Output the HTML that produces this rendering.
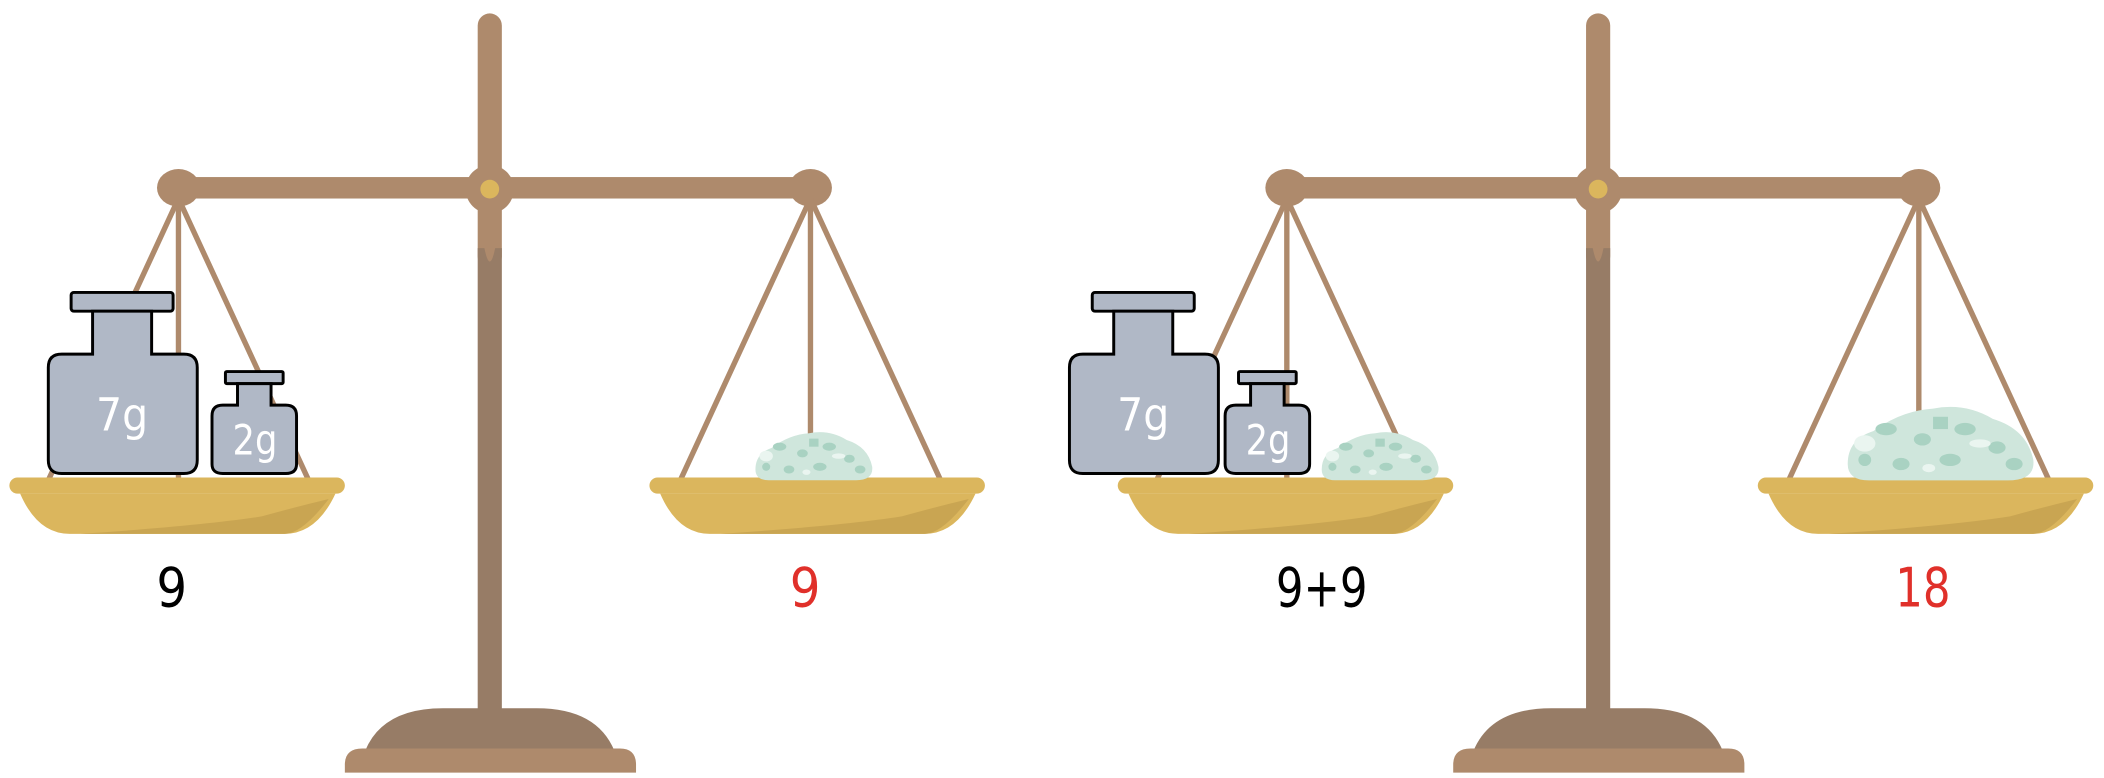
<!DOCTYPE html>
<html><head><meta charset="utf-8"><style>
html,body{margin:0;padding:0;background:#fff;}
svg{display:block;}
text{font-family:"DejaVu Sans","Liberation Sans",sans-serif;}
</style></head><body>
<svg width="2104" height="778" viewBox="0 0 1568 580" preserveAspectRatio="none">
<defs>
<g id="scale">
  <rect x="356" y="10" width="18" height="190" rx="9" fill="#ae8a6c"/>
  <rect x="356" y="185" width="18" height="348" fill="#977c66"/>
  <path d="M356 150 L374 150 L369 185 Q365 205 361 185 Z" fill="#ae8a6c"/>
  <rect x="133" y="132" width="471" height="16" fill="#ae8a6c"/>
  <ellipse cx="133" cy="140" rx="16" ry="14" fill="#ae8a6c"/>
  <ellipse cx="604" cy="140" rx="16" ry="14" fill="#ae8a6c"/>
  <circle cx="365" cy="141" r="18" fill="#ae8a6c"/>
  <circle cx="365" cy="141" r="7" fill="#dbb65d"/>
  <g stroke="#ae8a6c" stroke-width="4" fill="none">
    <line x1="133" y1="148" x2="36" y2="358"/><line x1="133" y1="148" x2="230" y2="358"/><line x1="133" y1="148" x2="133" y2="358"/>
    <line x1="604" y1="148" x2="507" y2="358"/><line x1="604" y1="148" x2="701" y2="358"/><line x1="604" y1="148" x2="604" y2="358"/>
  </g>
  <rect x="7" y="356" width="250" height="12" rx="6" fill="#dbb65d"/>
  <path d="M15 368 Q28 398 52 398 L212 398 Q236 398 250 368 Z" fill="#dbb65d"/>
  <path d="M245 372 Q225 398 212 398 L60 398 Q150 392 195 385 Q220 378 245 372 Z" fill="#c9a552"/>
  <rect x="484" y="356" width="250" height="12" rx="6" fill="#dbb65d"/>
  <path d="M492 368 Q505 398 529 398 L689 398 Q713 398 727 368 Z" fill="#dbb65d"/>
  <path d="M722 372 Q702 398 689 398 L537 398 Q627 392 672 385 Q697 378 722 372 Z" fill="#c9a552"/>
  <path d="M272 560 Q285 528 330 528 L400 528 Q445 528 458 560 Z" fill="#977c66"/>
  <path d="M257 576 L257 570 Q257 558 270 558 L462 558 Q474 558 474 570 L474 576 Z" fill="#ae8a6c"/>
</g>
<g id="w7">
  <rect x="17" y="0" width="76" height="14" rx="2" fill="#b0b8c6" stroke="#000" stroke-width="2.2"/>
  <path d="M33 14 L77 14 L77 46 L101 46 Q111 46 111 56 L111 125 Q111 135 101 135 L10 135 Q0 135 0 125 L0 56 Q0 46 10 46 L33 46 Z" fill="#b0b8c6" stroke="#000" stroke-width="2.2"/>
  <text x="55" y="103" font-size="34" fill="#fff" text-anchor="middle" transform="translate(55,0) scale(0.9,1) translate(-55,0)">7g</text>
</g>
<g id="w2">
  <rect x="10" y="0" width="43" height="9" rx="1" fill="#b0b8c6" stroke="#000" stroke-width="2.2"/>
  <path d="M19 9 L44 9 L44 25 L55 25 Q63 25 63 33 L63 69 Q63 76 55 76 L8 76 Q0 76 0 69 L0 33 Q0 25 8 25 L19 25 Z" fill="#b0b8c6" stroke="#000" stroke-width="2.2"/>
  <text x="32" y="62" font-size="31" fill="#fff" text-anchor="middle" transform="translate(32,0) scale(0.85,1) translate(-32,0)">2g</text>
</g>
<g id="pile">
  <path d="M0 30 Q0 18 12 14 Q25 4 40 3 Q55 0 68 8 Q84 13 87 28 Q88 38 75 38 L10 38 Q0 38 0 30 Z" fill="#cfe6dc"/>
  <g fill="#a9d2c2"><ellipse cx="18" cy="13" rx="5" ry="3"/><ellipse cx="35" cy="18" rx="4" ry="3"/><ellipse cx="55" cy="13" rx="5" ry="3"/><ellipse cx="70" cy="22" rx="4" ry="3"/><ellipse cx="25" cy="30" rx="4" ry="3"/><ellipse cx="48" cy="28" rx="5" ry="3"/><ellipse cx="78" cy="30" rx="4" ry="3"/><ellipse cx="8" cy="28" rx="3" ry="3"/><rect x="40" y="7" width="7" height="6"/></g>
  <g fill="#eaf5f0"><ellipse cx="8" cy="20" rx="5" ry="4"/><ellipse cx="62" cy="20" rx="5" ry="2"/><ellipse cx="38" cy="32" rx="3" ry="2"/></g>
</g>
</defs>
<use href="#scale"/>
<use href="#scale" transform="translate(826,0)"/>
<use href="#w7" transform="translate(36,218)"/>
<use href="#w2" transform="translate(158,277)"/>
<use href="#pile" transform="translate(563,320)"/>
<use href="#w7" transform="translate(797,218)"/>
<use href="#w2" transform="translate(913,277)"/>
<use href="#pile" transform="translate(985,320)"/>
<use href="#pile" transform="translate(1377,300) scale(1.59,1.53)"/>
<g transform="translate(0,452) scale(1,1.12)">
<text x="128" y="0" font-size="36" fill="#000" text-anchor="middle">9</text>
<text x="600" y="0" font-size="36" fill="#e0302a" text-anchor="middle">9</text>
<text x="985" y="0" font-size="36" fill="#000" text-anchor="middle" transform="translate(985,0) scale(0.9,1) translate(-985,0)">9+9</text>
<text x="1433" y="0" font-size="36" fill="#e0302a" text-anchor="middle" transform="translate(1433,0) scale(0.9,1) translate(-1433,0)">18</text>
</g>
</svg>
</body></html>
